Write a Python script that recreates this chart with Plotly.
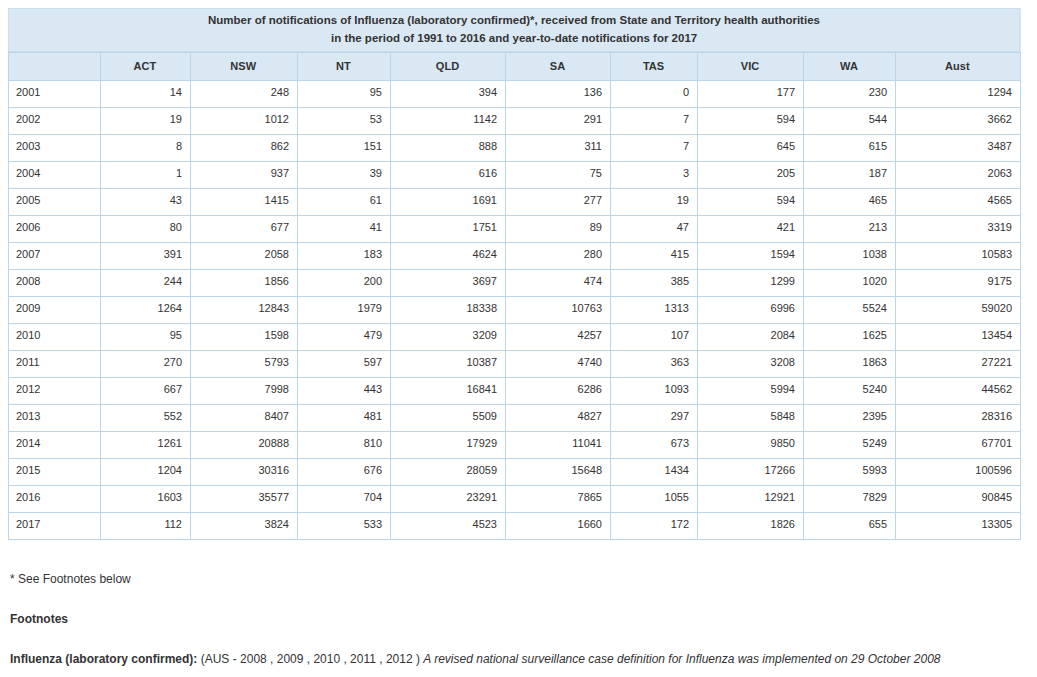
import plotly.graph_objects as go

W, H = 1037, 677
YEARS = [str(y) for y in range(2001, 2018)]
COLUMNS = ['ACT', 'NSW', 'NT', 'QLD', 'SA', 'TAS', 'VIC', 'WA', 'Aust']
ACT = [14, 19, 8, 1, 43, 80, 391, 244, 1264, 95, 270, 667, 552, 1261, 1204, 1603, 112]
NSW = [248, 1012, 862, 937, 1415, 677, 2058, 1856, 12843, 1598, 5793, 7998, 8407, 20888, 30316, 35577, 3824]
NT = [95, 53, 151, 39, 61, 41, 183, 200, 1979, 479, 597, 443, 481, 810, 676, 704, 533]
QLD = [394, 1142, 888, 616, 1691, 1751, 4624, 3697, 18338, 3209, 10387, 16841, 5509, 17929, 28059, 23291, 4523]
SA = [136, 291, 311, 75, 277, 89, 280, 474, 10763, 4257, 4740, 6286, 4827, 11041, 15648, 7865, 1660]
TAS = [0, 7, 7, 3, 19, 47, 415, 385, 1313, 107, 363, 1093, 297, 673, 1434, 1055, 172]
VIC = [177, 594, 645, 205, 594, 421, 1594, 1299, 6996, 2084, 3208, 5994, 5848, 9850, 17266, 12921, 1826]
WA = [230, 544, 615, 187, 465, 213, 1038, 1020, 5524, 1625, 1863, 5240, 2395, 5249, 5993, 7829, 655]
AUST = [1294, 3662, 3487, 2063, 4565, 3319, 10583, 9175, 59020, 13454, 27221, 44562, 28316, 67701, 100596, 90845, 13305]

TITLE_LINES = ['<b>Number of notifications of Influenza (laboratory confirmed)*, received from State and Territory health authorities</b>',
               '<b>in the period of 1991 to 2016 and year-to-date notifications for 2017</b>']

HEAD_BG = '#d9e8f3'
LINE = '#bcd5e8'
FONT = 'Liberation Sans, Arial, sans-serif'
OFF = 8  # page body margin


def py(y):  # page pixel (from top) -> paper fraction
    return (H - (y - OFF)) / H


def px_(x):
    return (x - OFF) / W


def main():
    widths = [92, 90, 107, 93, 115, 105, 87, 106, 92, 125]
    fig = go.Figure(go.Table(
        columnwidth=widths,
        domain=dict(x=[px_(8), px_(1020)], y=[py(545), py(52)]),
        header=dict(values=[''] + ['<b>%s</b>' % c for c in COLUMNS],
                    fill_color=HEAD_BG, line_color=LINE, align='center', height=28,
                    font=dict(family=FONT, size=11, color='#333')),
        cells=dict(values=[YEARS, ACT, NSW, NT, QLD, SA, TAS, VIC, WA, AUST],
                   fill_color='white', line_color=LINE, height=27,
                   align=['left'] + ['right'] * 9,
                   font=dict(family=FONT, size=11, color='#333')),
    ))
    # title banner above the table
    fig.add_shape(type='rect', xref='paper', yref='paper',
                  x0=px_(8), x1=px_(1020), y0=py(52), y1=py(8),
                  fillcolor=HEAD_BG, line=dict(color=LINE, width=1))
    for y, t in zip([20, 38], TITLE_LINES):
        fig.add_annotation(x=px_(514), y=py(y), xref='paper', yref='paper', text=t,
                           yanchor='middle', showarrow=False,
                           font=dict(family=FONT, size=11.5, color='#333'))
    notes = [
        (579, '* See Footnotes below'),
        (619, '<b>Footnotes</b>'),
        (659, '<b>Influenza (laboratory confirmed):</b> (AUS - 2008 , 2009 , 2010 , 2011 , 2012 ) '
              '<i>A revised national surveillance case definition for Influenza was implemented on 29 October 2008</i>'),
    ]
    for y, t in notes:
        fig.add_annotation(x=px_(8), y=py(y), xref='paper', yref='paper', text=t,
                           xanchor='left', yanchor='middle', showarrow=False,
                           font=dict(family=FONT, size=12, color='#333'))
    fig.update_layout(width=W, height=H, margin=dict(l=0, r=0, t=0, b=0, autoexpand=False),
                      paper_bgcolor='white', plot_bgcolor='white')
    fig.write_html('out.html')


if __name__ == '__main__':
    main()
